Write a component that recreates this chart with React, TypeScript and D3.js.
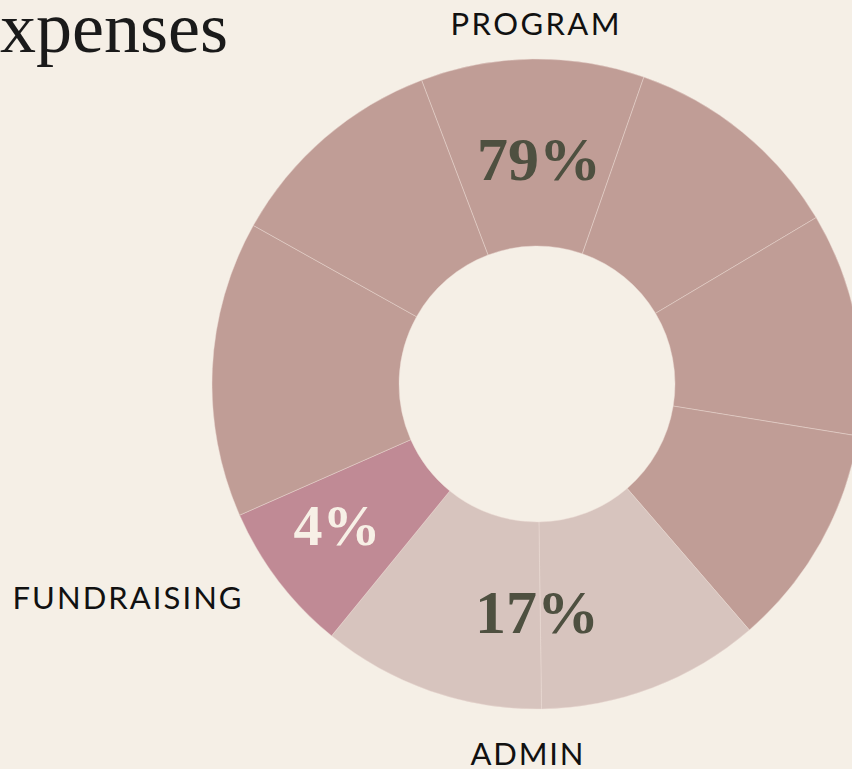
import React from "react";
import * as d3 from "d3";

const segmentCategory = ["Program", "Program", "Program", "Program", "Admin", "Admin", "Fundraising", "Program", "Program"];
const segmentWeight = [40, 40, 40, 40, 40, 40, 27, 53, 40];

const categories = ["Program", "Admin", "Fundraising"];
const categoryLabels = ["PROGRAM", "ADMIN", "FUNDRAISING"];
const categoryPercents = [79, 17, 4];

const W = 852;
const H = 769;
const CX = 537;
const CY = 384;
const R_OUT = 325;
const R_IN = 138;

const colorScale = d3.scaleOrdinal<string, string>()
  .domain(categories)
  .range(["#c09d96", "#d7c4be", "#c08a95"]);

const pctColor: Record<string, string> = { Program: "#4e5040", Admin: "#4e5040", Fundraising: "#f7f0e6" };
const pctPos: Record<string, [number, number]> = { Program: [539, 180], Admin: [537, 633], Fundraising: [337, 545] };
const labelPos: Record<string, [number, number, number]> = {
  Program: [535, 35, 169],
  Admin: [527, 765, 113],
  Fundraising: [127, 609, 229],
};

export default function App() {
  const deg = Math.PI / 180;
  const pie = d3.pie<number>().sort(null).value((d) => d).startAngle(-20.8 * deg).endAngle(339.2 * deg);
  const arcs = pie(segmentWeight);
  const arcGen = d3.arc<d3.PieArcDatum<number>>().innerRadius(R_IN).outerRadius(R_OUT);

  return (
    <svg
      width={W}
      height={H}
      style={{ position: "absolute", left: 0, top: 0, background: "#f5efe6" }}
    >
      <rect x={0} y={0} width={W} height={H} fill="#f5efe6" />
      <text
        x={228}
        y={52}
        textAnchor="end"
        fontFamily="'Liberation Serif', serif"
        fontSize={72}
        fill="#1a1a1a"
      >
        Expenses
      </text>
      <g transform={`translate(${CX},${CY})`}>
        {arcs.map((a, i) => (
          <path
            key={i}
            d={arcGen(a) || ""}
            fill={colorScale(segmentCategory[i])}
            stroke="#ecdcd6"
            strokeOpacity={0.55}
            strokeWidth={0.8}
          />
        ))}
      </g>
      {categories.map((c, i) => (
        <text
          key={"p" + c}
          x={pctPos[c][0]}
          y={pctPos[c][1]}
          textAnchor="middle"
          fontFamily="'Liberation Serif', serif"
          fontWeight="bold"
          fontSize={c === "Fundraising" ? 58 : 62}
          fill={pctColor[c]}
        >
          {categoryPercents[i]}%
        </text>
      ))}
      {categories.map((c, i) => (
        <text
          key={"l" + c}
          x={labelPos[c][0]}
          y={labelPos[c][1]}
          textAnchor="middle"
          fontFamily="Lato, 'Open Sans', sans-serif"
          fontSize={31}
          textLength={labelPos[c][2]}
          lengthAdjust="spacing"
          fill="#111111"
        >
          {categoryLabels[i]}
        </text>
      ))}
    </svg>
  );
}
